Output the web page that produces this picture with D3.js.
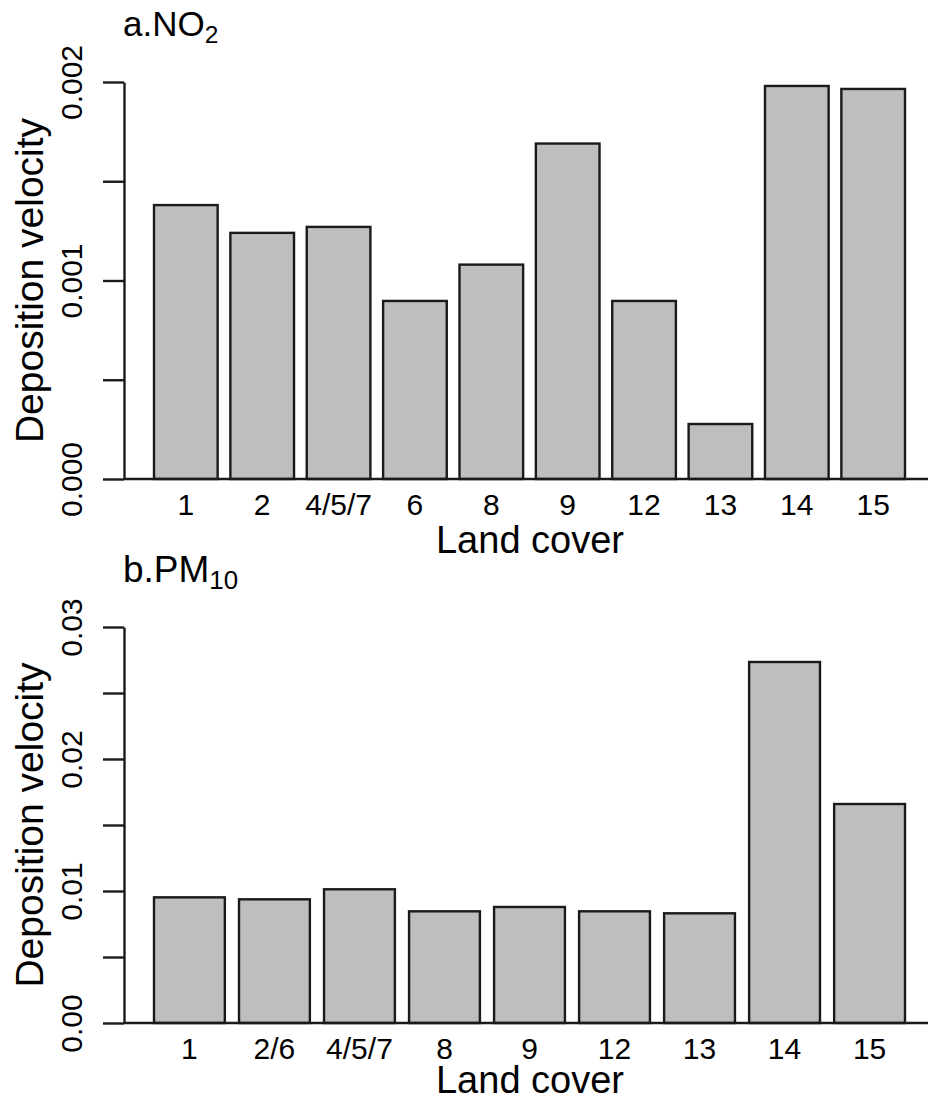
<!DOCTYPE html>
<html>
<head>
<meta charset="utf-8">
<script src="https://cdn.jsdelivr.net/npm/d3@7"></script>
<style>
  body { margin: 0; background: #fff; }
  text { font-family: "Liberation Sans", Arial, sans-serif; fill: #000; }
</style>
</head>
<body>
<svg id="chart" width="928" height="1101"></svg>
<script>
    // ============ DATA =================
    var no2Labels = ["1", "2", "4/5/7", "6", "8", "9", "12", "13", "14", "15"];
    var no2Values = [0.00138, 0.00124, 0.00127, 0.000897, 0.00108, 0.00169, 0.000897, 0.000277, 0.00198, 0.001965];
    var no2Ticks = [0, 0.0005, 0.001, 0.0015, 0.002];
    var no2TickLabels = ["0.000", "", "0.001", "", "0.002"];

    var pmLabels = ["1", "2/6", "4/5/7", "8", "9", "12", "13", "14", "15"];
    var pmValues = [0.00952, 0.00937, 0.01013, 0.00846, 0.00879, 0.00846, 0.00831, 0.02735, 0.01659];
    var pmTicks = [0, 0.005, 0.01, 0.015, 0.02, 0.025, 0.03];
    var pmTickLabels = ["0.00", "", "0.01", "", "0.02", "", "0.03"];

    var svg = d3.select("#chart");

    // draws one barplot panel in R style
    function barPanel(opts) {
        var x = d3.scaleBand()
            .domain(opts.labels)
            .range([154, 905])
            .paddingInner(0.2 / 1.2)
            .paddingOuter(0);

        var y = d3.scaleLinear()
            .domain([0, opts.ticks[opts.ticks.length - 1]])
            .range([opts.bottom, opts.top]);

        var data = opts.labels.map(function (l, i) { return { label: l, value: opts.values[i] }; });

        var g = svg.append("g");

        g.selectAll(".bar")
            .data(data)
            .enter().append("rect")
            .attr("class", "bar")
            .attr("x", function (d) { return x(d.label); })
            .attr("y", function (d) { return y(d.value); })
            .attr("width", x.bandwidth())
            .attr("height", function (d) { return y(0) - y(d.value); })
            .attr("fill", "#bebebe")
            .attr("stroke", "#1a1a1a")
            .attr("stroke-width", 2.4);

        // baseline
        g.append("line")
            .attr("x1", 124).attr("x2", 928)
            .attr("y1", y(0)).attr("y2", y(0))
            .attr("stroke", "#1a1a1a")
            .attr("stroke-width", 2.4);

        // y axis
        var yAxis = g.append("g")
            .attr("transform", "translate(124,0)")
            .call(d3.axisLeft(y)
                .tickValues(opts.ticks)
                .tickSize(21)
                .tickSizeOuter(0)
                .tickFormat(function (d, i) { return opts.tickLabels[i]; }));
        yAxis.selectAll("path, line").attr("stroke", "#1a1a1a").attr("stroke-width", 2.4);
        yAxis.selectAll("text")
            .attr("font-size", 30)
            .attr("font-family", "Liberation Sans, Arial, sans-serif")
            .attr("fill", "#000")
            .attr("text-anchor", "middle")
            .attr("transform", "rotate(-90)")
            .attr("x", 0)
            .attr("y", -42)
            .attr("dy", null);

        // x labels
        var xAxis = g.append("g")
            .attr("transform", "translate(0," + y(0) + ")")
            .call(d3.axisBottom(x).tickSize(0).tickPadding(15));
        xAxis.select(".domain").remove();
        xAxis.selectAll("text")
            .attr("font-size", 30)
            .attr("font-family", "Liberation Sans, Arial, sans-serif")
            .attr("fill", "#000");

        // axis titles
        g.append("text")
            .attr("x", 530)
            .attr("y", y(0) + opts.xTitleGap)
            .attr("text-anchor", "middle")
            .attr("font-size", 38)
            .text("Land cover");

        g.append("text")
            .attr("transform", "translate(43," + (opts.top + opts.bottom) / 2 + ") rotate(-90)")
            .attr("text-anchor", "middle")
            .attr("font-size", 39)
            .text("Deposition velocity");

        // panel title with subscript
        var t = g.append("text")
            .attr("x", 123)
            .attr("y", opts.titleY)
            .attr("font-size", opts.titleSize);
        t.append("tspan").text(opts.title);
        t.append("tspan")
            .attr("font-size", opts.titleSize * 0.7)
            .attr("dy", opts.titleSize * 0.2)
            .text(opts.sub);
    }

    barPanel({
        labels: no2Labels, values: no2Values,
        ticks: no2Ticks, tickLabels: no2TickLabels,
        top: 82, bottom: 479, xTitleGap: 74,
        title: "a.NO", sub: "2", titleY: 36, titleSize: 35
    });

    barPanel({
        labels: pmLabels, values: pmValues,
        ticks: pmTicks, tickLabels: pmTickLabels,
        top: 627, bottom: 1023, xTitleGap: 70,
        title: "b.PM", sub: "10", titleY: 582, titleSize: 37
    });
</script>
</body>
</html>
